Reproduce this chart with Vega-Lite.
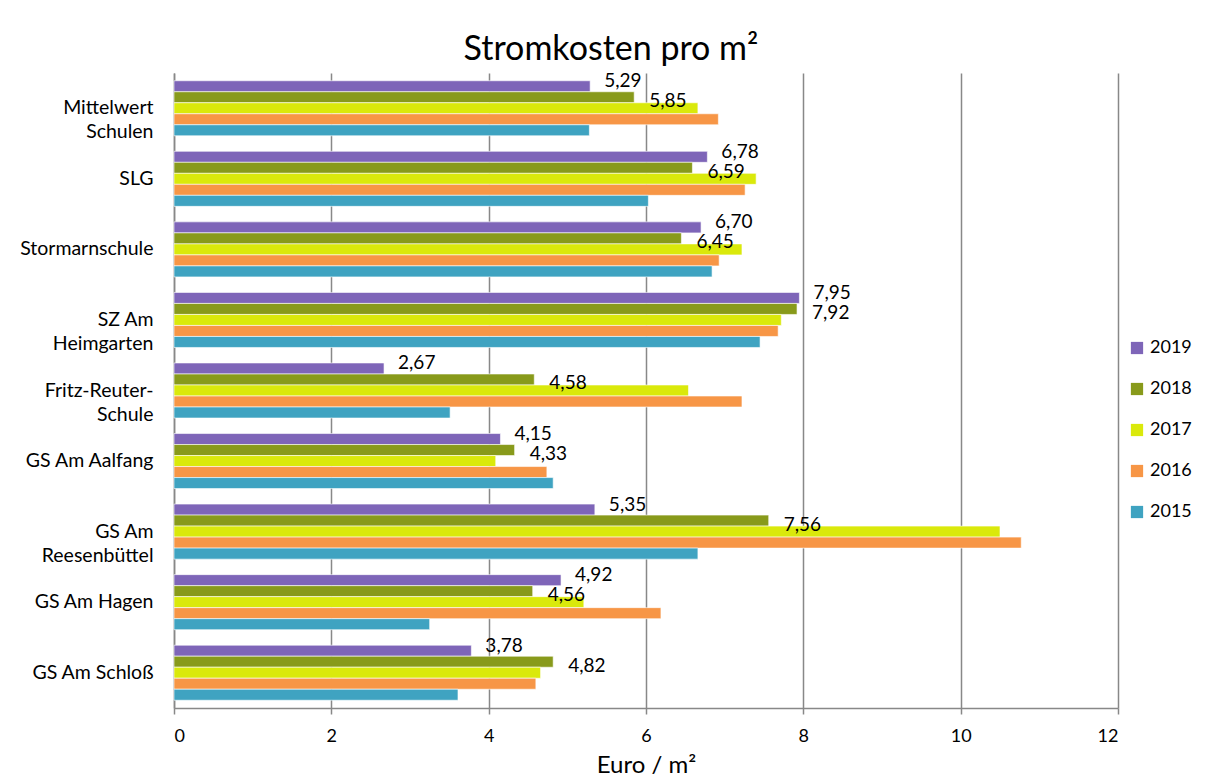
{
  "$schema": "https://vega.github.io/schema/vega-lite/v6.json",
  "autosize": "none",
  "width": 944,
  "height": 635,
  "padding": {"left": 174, "top": 73, "right": 92, "bottom": 75},
  "background": "white",
  "title": {"text": "Stromkosten pro m²", "fontSize": 34, "fontWeight": "normal", "font": "Lato", "color": "black", "anchor": "middle", "frame": "group", "offset": 5, "dx": -35},
  "config": {
    "locale": {"number": {"decimal": ",", "thousands": ".", "grouping": [3], "currency": ["", " €"]}},
    "view": {"stroke": null},
    "font": "Lato",
    "axis": {"labelFont": "Lato", "titleFont": "Lato", "labelColor": "black", "titleColor": "black"}
  },
  "data": {"values": [
    {"school": "Mittelwert Schulen", "year": "2019", "value": 5.29},
    {"school": "Mittelwert Schulen", "year": "2018", "value": 5.85},
    {"school": "Mittelwert Schulen", "year": "2017", "value": 6.66},
    {"school": "Mittelwert Schulen", "year": "2016", "value": 6.92},
    {"school": "Mittelwert Schulen", "year": "2015", "value": 5.28},
    {"school": "SLG", "year": "2019", "value": 6.78},
    {"school": "SLG", "year": "2018", "value": 6.59},
    {"school": "SLG", "year": "2017", "value": 7.40},
    {"school": "SLG", "year": "2016", "value": 7.26},
    {"school": "SLG", "year": "2015", "value": 6.03},
    {"school": "Stormarnschule", "year": "2019", "value": 6.70},
    {"school": "Stormarnschule", "year": "2018", "value": 6.45},
    {"school": "Stormarnschule", "year": "2017", "value": 7.22},
    {"school": "Stormarnschule", "year": "2016", "value": 6.93},
    {"school": "Stormarnschule", "year": "2015", "value": 6.84},
    {"school": "SZ Am Heimgarten", "year": "2019", "value": 7.95},
    {"school": "SZ Am Heimgarten", "year": "2018", "value": 7.92},
    {"school": "SZ Am Heimgarten", "year": "2017", "value": 7.72},
    {"school": "SZ Am Heimgarten", "year": "2016", "value": 7.68},
    {"school": "SZ Am Heimgarten", "year": "2015", "value": 7.45},
    {"school": "Fritz-Reuter-Schule", "year": "2019", "value": 2.67},
    {"school": "Fritz-Reuter-Schule", "year": "2018", "value": 4.58},
    {"school": "Fritz-Reuter-Schule", "year": "2017", "value": 6.54},
    {"school": "Fritz-Reuter-Schule", "year": "2016", "value": 7.22},
    {"school": "Fritz-Reuter-Schule", "year": "2015", "value": 3.51},
    {"school": "GS Am Aalfang", "year": "2019", "value": 4.15},
    {"school": "GS Am Aalfang", "year": "2018", "value": 4.33},
    {"school": "GS Am Aalfang", "year": "2017", "value": 4.09},
    {"school": "GS Am Aalfang", "year": "2016", "value": 4.74},
    {"school": "GS Am Aalfang", "year": "2015", "value": 4.82},
    {"school": "GS Am Reesenbüttel", "year": "2019", "value": 5.35},
    {"school": "GS Am Reesenbüttel", "year": "2018", "value": 7.56},
    {"school": "GS Am Reesenbüttel", "year": "2017", "value": 10.50},
    {"school": "GS Am Reesenbüttel", "year": "2016", "value": 10.77},
    {"school": "GS Am Reesenbüttel", "year": "2015", "value": 6.66},
    {"school": "GS Am Hagen", "year": "2019", "value": 4.92},
    {"school": "GS Am Hagen", "year": "2018", "value": 4.56},
    {"school": "GS Am Hagen", "year": "2017", "value": 5.21},
    {"school": "GS Am Hagen", "year": "2016", "value": 6.19},
    {"school": "GS Am Hagen", "year": "2015", "value": 3.25},
    {"school": "GS Am Schloß", "year": "2019", "value": 3.78},
    {"school": "GS Am Schloß", "year": "2018", "value": 4.82},
    {"school": "GS Am Schloß", "year": "2017", "value": 4.66},
    {"school": "GS Am Schloß", "year": "2016", "value": 4.60},
    {"school": "GS Am Schloß", "year": "2015", "value": 3.61}
  ]},
  "encoding": {
    "y": {
      "field": "school", "type": "nominal", "sort": null,
      "scale": {"paddingInner": 0.22, "paddingOuter": 0.11},
      "axis": {
        "title": null, "ticks": false, "labelFontSize": 19.5, "labelPadding": 21,
        "domainColor": "#888888", "domainWidth": 1.5, "grid": false,
        "labelLineHeight": 24,
        "labelExpr": "datum.label == 'Mittelwert Schulen' ? ['Mittelwert', 'Schulen'] : datum.label == 'SZ Am Heimgarten' ? ['SZ Am', 'Heimgarten'] : datum.label == 'Fritz-Reuter-Schule' ? ['Fritz-Reuter-', 'Schule'] : datum.label == 'GS Am Reesenbüttel' ? ['GS Am', 'Reesenbüttel'] : datum.label"
      }
    },
    "yOffset": {"field": "year", "type": "nominal", "sort": "descending"}
  },
  "layer": [
    {
      "mark": {"type": "bar", "stroke": "white", "strokeWidth": 0.6},
      "encoding": {
        "x": {
          "field": "value", "type": "quantitative",
          "scale": {"domain": [0, 12], "nice": false},
          "axis": {
            "title": "Euro / m²", "titleFontSize": 24, "titleFontWeight": "normal", "titlePadding": 8,
            "values": [0, 2, 4, 6, 8, 10, 12], "format": "d",
            "labelFontSize": 18, "labelPadding": 13,
            "tickSize": 6, "tickColor": "#888888", "tickWidth": 1.5,
            "domainColor": "#888888", "domainWidth": 1.5,
            "grid": true, "gridColor": "#888888", "gridWidth": 1.5
          }
        },
        "color": {
          "field": "year", "type": "nominal",
          "scale": {"domain": ["2019", "2018", "2017", "2016", "2015"], "range": ["#7e65b8", "#889a1b", "#dae90b", "#f79646", "#3fa3c1"]},
          "legend": {
            "title": null, "orient": "none", "legendX": 954, "legendY": 266,
            "symbolType": "square", "symbolSize": 150, "symbolStrokeWidth": 0,
            "labelFontSize": 18, "rowPadding": 23, "labelOffset": 4
          }
        }
      }
    },
    {
      "transform": [{"filter": "datum.year == '2019'"}],
      "mark": {"type": "text", "align": "left", "baseline": "middle", "dx": 14, "dy": -5, "fontSize": 19, "color": "black"},
      "encoding": {
        "x": {"field": "value", "type": "quantitative"},
        "text": {"field": "value", "type": "quantitative", "format": ".2f"}
      }
    },
    {
      "transform": [{"filter": "datum.year == '2018'"}],
      "mark": {"type": "text", "align": "left", "baseline": "middle", "dx": 15, "dy": 4, "fontSize": 19, "color": "black"},
      "encoding": {
        "x": {"field": "value", "type": "quantitative"},
        "text": {"field": "value", "type": "quantitative", "format": ".2f"}
      }
    }
  ]
}
